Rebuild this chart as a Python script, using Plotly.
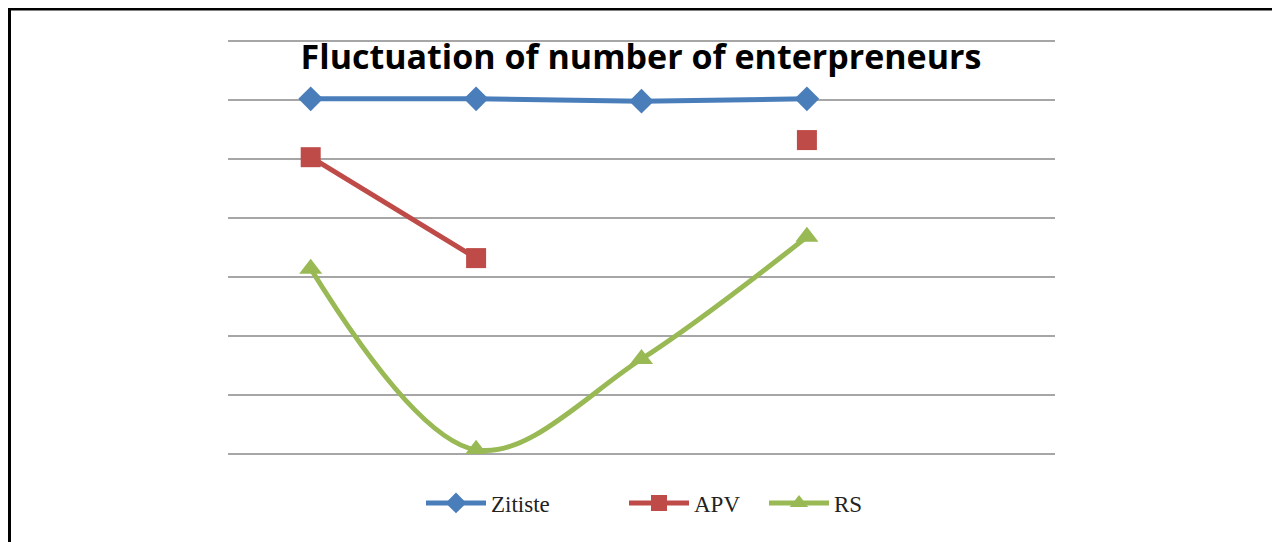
import plotly.graph_objects as go

# category slots (5th slot is empty in the source chart)
categories = [1, 2, 3, 4]
zitiste = [6.02, 6.02, 5.98, 6.02]
apv = [5.03, 3.32, None, 5.32]
rs = [3.14, 0.07, 1.61, 3.68]

title_text = "Fluctuation of number of enterpreneurs"

# the page body adds an 8px offset, so positions below are shifted by 8px
fig = go.Figure()
fig.add_trace(go.Scatter(
    x=categories, y=zitiste, name="Zitiste", mode="lines+markers",
    line={"color": "#4A7EBB", "width": 5},
    marker={"symbol": "diamond", "size": 19, "color": "#4A7EBB"},
    showlegend=True,
    legend="legend",
))
fig.add_trace(go.Scatter(
    x=categories, y=apv, name="APV", mode="lines+markers",
    line={"color": "#BE4B48", "width": 5},
    marker={"symbol": "square", "size": 20, "color": "#BE4B48"},
    connectgaps=False,
    showlegend=True,
    legend="legend2",
))
fig.add_trace(go.Scatter(
    x=categories, y=rs, name="RS", mode="lines+markers",
    line={"color": "#98B954", "width": 5, "shape": "spline", "smoothing": 1},
    marker={"symbol": "triangle-up", "size": 20, "color": "#98B954"},
    showlegend=True,
    legend="legend3",
))

plot_h = 416  # 7.05 units at 59px each

legend_style = {
    "orientation": "h",
    "yanchor": "middle",
    "y": -49 / plot_h,
    "xanchor": "left",
    "font": {"family": "Liberation Serif", "size": 23, "color": "#222222"},
    "itemwidth": 60,
    "bgcolor": "rgba(0,0,0,0)",
}

fig.update_layout(
    width=1280,
    height=542,
    showlegend=True,
    paper_bgcolor="white",
    plot_bgcolor="white",
    margin={"l": 220, "r": 233, "t": 30, "b": 96, "autoexpand": False},
    title={
        "text": f"<b>{title_text}</b>",
        "x": 633 / 1280,
        "xanchor": "center",
        "y": 1 - 49 / 542,
        "yref": "container",
        "yanchor": "middle",
        "font": {"family": "Open Sans", "size": 34, "color": "#000000"},
    },
    xaxis={
        "range": [0.5, 5.5],
        "showgrid": False,
        "showticklabels": False,
        "zeroline": False,
        "showline": False,
        "ticks": "",
    },
    yaxis={
        "range": [0, 7.05],
        "dtick": 1,
        "showgrid": True,
        "gridcolor": "#A6A6A6",
        "gridwidth": 1.5,
        "showticklabels": False,
        "zeroline": True,
        "zerolinecolor": "#A6A6A6",
        "zerolinewidth": 1.5,
        "showline": False,
        "ticks": "",
    },
    legend={**legend_style, "x": 193 / 827},
    legend2={**legend_style, "x": 396 / 827},
    legend3={**legend_style, "x": 536 / 827},
    shapes=[
        {"type": "line", "xref": "paper", "yref": "paper",
         "x0": -220 / 827, "x1": 1060 / 827,
         "y0": 445 / plot_h, "y1": 445 / plot_h,
         "line": {"color": "black", "width": 3}},
        {"type": "line", "xref": "paper", "yref": "paper",
         "x0": -218.5 / 827, "x1": -218.5 / 827,
         "y0": -96 / plot_h, "y1": 445 / plot_h,
         "line": {"color": "black", "width": 3}},
    ],
)

fig.write_html("out.html")
